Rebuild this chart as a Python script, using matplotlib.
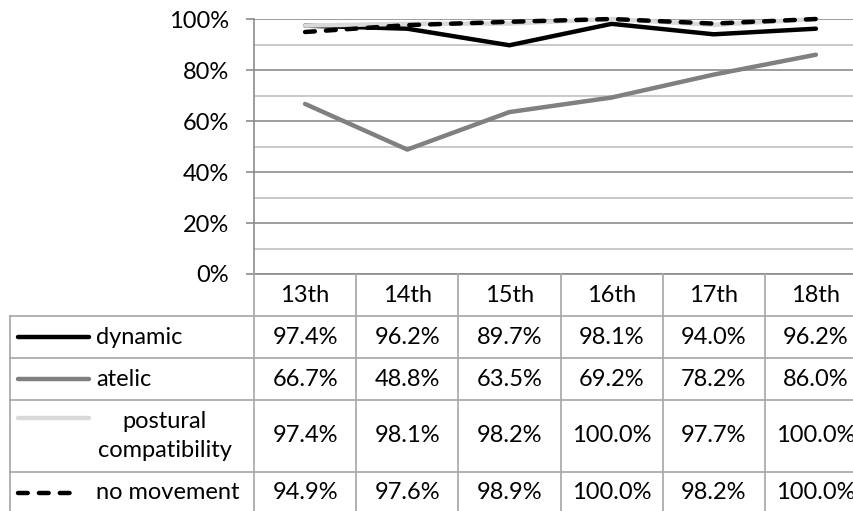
import numpy as np
import matplotlib.pyplot as plt
from matplotlib.lines import Line2D
from matplotlib import transforms

plt.rcParams['font.family'] = ['Lato', 'DejaVu Sans']

centuries = ['13th', '14th', '15th', '16th', '17th', '18th']
dynamic = [97.4, 96.2, 89.7, 98.1, 94.0, 96.2]
atelic = [66.7, 48.8, 63.5, 69.2, 78.2, 86.0]
postural = [97.4, 98.1, 98.2, 100.0, 97.7, 100.0]
no_movement = [94.9, 97.6, 98.9, 100.0, 98.2, 100.0]

labels = ['dynamic', 'atelic', 'postural\ncompatibility', 'no movement']
values = [dynamic, atelic, postural, no_movement]
colors = ['black', '#808080', '#d9d9d9', 'black']
dashed = [False, False, False, True]

W, H = 854, 511
FS = 17
GRID = '#a6a6a6'


def fx(px):
    return px / W


def fy(py):
    return 1 - py / H


fig = plt.figure(figsize=(W / 100, H / 100), dpi=100)
ax = fig.add_axes([fx(254), fy(274), (867 - 254) / W, (274 - 19) / H])

x = np.arange(len(centuries))
for vals, col, dsh in zip(values, colors, dashed):
    ln, = ax.plot(x, vals, color=col, lw=3.2, clip_on=False,
                  solid_capstyle='round', solid_joinstyle='round')
    if dsh:
        ln.set_dashes((2.2, 2.5))
        ln.set_dash_capstyle('round')

ax.set_xlim(-0.5, len(centuries) - 0.5)
ax.set_ylim(0, 100)
ax.set_yticks(np.arange(0, 101, 20))
ax.set_yticks(np.arange(10, 100, 20), minor=True)
ax.set_yticklabels([f'{v}%' for v in range(0, 101, 20)], fontsize=FS)
ax.set_xticks([])
ax.tick_params(axis='y', which='major', direction='out', length=6,
               width=1.2, color='#8c8c8c', pad=12)
ax.tick_params(axis='y', which='minor', length=0)
ax.grid(axis='y', which='major', color='#8c8c8c', lw=1.2)
ax.grid(axis='y', which='minor', color='#c0c0c0', lw=1.2)
ax.set_axisbelow(True)
for side in ['top', 'right']:
    ax.spines[side].set_visible(False)
for side in ['left', 'bottom']:
    ax.spines[side].set_color('#8c8c8c')
    ax.spines[side].set_linewidth(1.2)

# data table under the chart
trans = transforms.blended_transform_factory(ax.transData, fig.transFigure)
header = (274, 316)
rows = [(316, 358), (358, 400), (400, 472), (472, 513)]

for i in range(len(centuries) + 1):
    fig.add_artist(Line2D([i - 0.5, i - 0.5], [fy(274), fy(513)],
                          transform=trans, color=GRID, lw=1.2))
fig.add_artist(Line2D([fx(10), fx(10)], [fy(316), fy(513)],
                      color=GRID, lw=1.2))
for top, _ in rows:
    fig.add_artist(Line2D([fx(10), 1.0], [fy(top), fy(top)],
                          color=GRID, lw=1.2))

ymid = fy(sum(header) / 2)
for i, c in enumerate(centuries):
    fig.text(i, ymid, c, transform=trans, ha='center', va='center',
             fontsize=FS)

for (top, bot), lab, vals, col, dsh in zip(rows, labels, values, colors,
                                          dashed):
    mid = fy((top + bot) / 2)
    for i, v in enumerate(vals):
        fig.text(i, mid, f'{v:.1f}%', transform=trans, ha='center',
                 va='center', fontsize=FS)
    if '\n' in lab:
        sample_y = fy(top + 18)
        fig.text(fx(165), mid, lab, ha='center', va='center', fontsize=FS,
                 linespacing=1.45)
    else:
        sample_y = mid
        fig.text(fx(96), mid, lab, ha='left', va='center', fontsize=FS)
    end = 78 if dsh else 89
    sample = Line2D([fx(18), fx(end)], [sample_y, sample_y], color=col,
                    lw=3.2, solid_capstyle='round')
    if dsh:
        sample.set_dashes((2.2, 2.5))
        sample.set_dash_capstyle('round')
    fig.add_artist(sample)

fig.savefig('out.png', dpi=100)
